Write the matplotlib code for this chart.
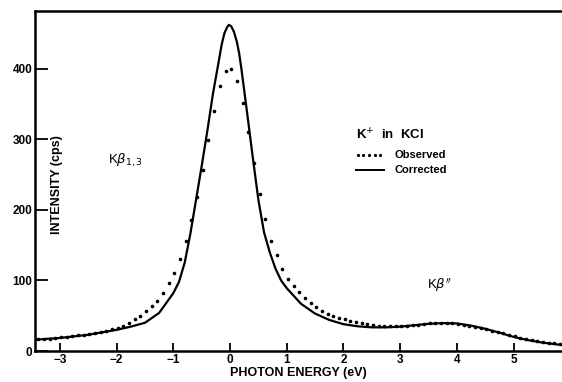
import matplotlib
matplotlib.use("Agg")
import matplotlib.pyplot as plt
import numpy as np

plt.rcParams["font.family"] = ["Liberation Sans", "DejaVu Sans"]

# corrected spectrum (solid line)
corr_x = [-3.44, -3.0, -2.5, -2.0, -1.75, -1.5, -1.25, -1.0, -0.9, -0.8, -0.7,
          -0.6, -0.5, -0.4, -0.3, -0.2, -0.15, -0.1, -0.05, -0.02, 0.02, 0.07,
          0.12, 0.16, 0.2, 0.3, 0.4, 0.5, 0.6, 0.7, 0.8, 0.9, 1.0, 1.25, 1.5,
          1.75, 2.0, 2.25, 2.5, 2.75, 3.0, 3.25, 3.5, 3.75, 4.0, 4.25, 4.5,
          4.75, 5.0, 5.25, 5.5, 5.85]
corr_y = [16, 18.5, 23, 30, 34.5, 40, 54, 82, 98, 125, 166,
          214, 262, 312, 365, 410, 433, 450, 459, 462, 460, 452,
          438, 422, 400, 338, 275, 214, 168, 140, 117, 100, 89, 67, 53,
          44, 38, 35, 33.5, 33.5, 34.5, 36.5, 38.5, 39.5, 39, 36, 31.5,
          26, 20, 15.5, 12, 8.5]

# observed spectrum (dots every 0.1 eV, from -3.38 eV)
obs_x0 = -3.38
obs_y = [16.5, 17, 17.5, 18.5, 19.5, 20, 21, 22, 22.5, 24,
         25.5, 27, 28.5, 31, 33, 36, 40, 45, 50, 57,
         64, 71, 82, 96, 111, 130, 156, 186, 218, 256,
         299, 340, 376, 397, 400, 383, 351, 310, 266, 223,
         187, 156, 136, 116, 102, 92.5, 84, 75.5, 67.5, 62,
         57, 53, 50, 47, 45, 43, 41, 39.5, 38, 37,
         36, 35, 35, 35, 35.5, 36, 37, 37.5, 38.5, 39,
         39.5, 40, 39.5, 39, 38.5, 37.5, 36, 34.5, 33, 31,
         29, 27, 25, 23, 21, 19, 17.5, 16, 14.5, 13,
         12, 11, 10]
obs_x = obs_x0 + 0.1 * np.arange(len(obs_y))

x_ticks = [-3, -2, -1, 0, 1, 2, 3, 4, 5]
y_ticks = [0, 100, 200, 300, 400]

fig = plt.figure(figsize=(5.62, 3.82), dpi=100)
ax = fig.add_axes([35 / 562, 31 / 382, 527 / 562, 340 / 382])

ax.plot(corr_x, corr_y, color="k", linewidth=1.6, solid_joinstyle="round")
ax.plot(obs_x, obs_y, linestyle="none", marker="o", markersize=1.6, color="k")

ax.set_xlim(-3.44, 5.855)
ax.set_ylim(0, 481.6)
ax.set_xticks(x_ticks)
ax.set_yticks(y_ticks)
ax.spines["right"].set_visible(False)
for s in ["left", "top", "bottom"]:
    ax.spines[s].set_linewidth(1.8)
ax.tick_params(axis="y", direction="in", length=9.5, width=1.3, pad=2,
               labelsize=8.5)
ax.tick_params(axis="x", direction="in", length=5.5, width=1.3, pad=2,
               labelsize=8.5)
for lab in ax.get_xticklabels() + ax.get_yticklabels():
    lab.set_fontweight("bold")

ax.set_xlabel("PHOTON ENERGY (eV)", fontsize=9, fontweight="bold", labelpad=1)
ax.text(22 / 527, 0.49, "INTENSITY (cps)", transform=ax.transAxes,
        rotation=90, ha="center", va="center", fontsize=9, fontweight="bold")

ax.text(-1.85, 270, r"K$\beta_{1,3}$", fontsize=9.5, ha="center", va="center")
ax.text(3.70, 93, r"K$\beta''$", fontsize=9.5, ha="center", va="center")
ax.text(2.23, 306, r"K$^{+}$  in  KCl", fontsize=9.5, fontweight="bold",
        ha="left", va="center")

# legend drawn by hand to keep the paper look
ax.plot([2.25, 2.35, 2.45, 2.55, 2.65], [278] * 5, linestyle="none",
        marker="o", markersize=1.3, color="k")
ax.plot([2.23, 2.72], [256, 256], color="k", linewidth=1.4)
ax.text(2.90, 278, "Observed", fontsize=8, fontweight="bold", va="center")
ax.text(2.90, 256, "Corrected", fontsize=8, fontweight="bold", va="center")

fig.savefig("out.png", dpi=100)
